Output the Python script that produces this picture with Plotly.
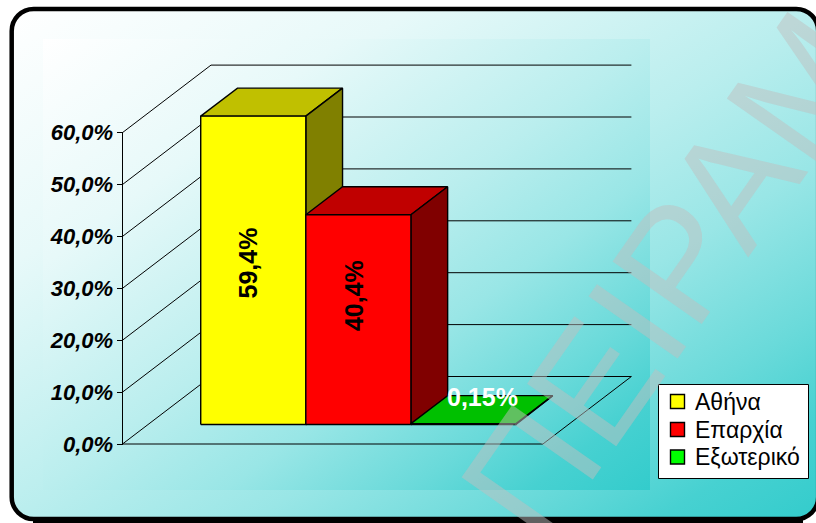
import base64
import plotly.graph_objects as go

# ---- data ----
categories = ["Αθήνα", "Επαρχία", "Εξωτερικό"]
values = [59.4, 40.4, 0.15]
value_labels = ["59,4%", "40,4%", "0,15%"]
tick_values = [0, 10, 20, 30, 40, 50, 60]
tick_labels = ["0,0%", "10,0%", "20,0%", "30,0%", "40,0%", "50,0%", "60,0%"]

# ---- style ----
front_colors = ["#FFFF00", "#FF0000", "#00FF00"]
top_colors = ["#C0C000", "#C00000", "#00C000"]
side_colors = ["#808000", "#800000", "#008000"]
label_colors = ["black", "black", "white"]
label_angles = [-90, -90, 0]
label_x = [1.19, 2.203, 3.43]
label_y = [34.9, 28.5, 9.0]
FONT = "Liberation Sans"

W, H = 816, 523
PX_CAT, PX_VAL = 105.1, 5.19      # axis scales: pixels per category / per percent
X0_PX, Y0_PX = 122.5, 444.0       # pixel position of the chart origin
DEPTH_X, DEPTH_Y = 88.5 / PX_CAT, 67.5 / PX_VAL   # oblique offset of the back wall
D0, D1 = 0.29, 0.705              # depth range of the bars
N = len(categories)


def proj(cat, val, depth=0.0):
    return cat + depth * DEPTH_X, val + depth * DEPTH_Y


def poly(points):
    xs, ys = zip(*[proj(*p) for p in points])
    return list(xs), list(ys)


fig = go.Figure()


def add_line(points):
    xs, ys = poly(points)
    fig.add_trace(go.Scatter(x=xs, y=ys, mode="lines", showlegend=False, hoverinfo="skip",
                             line=dict(color="black", width=1)))


def add_face(points, color, name=None):
    xs, ys = poly(points)
    xs.append(xs[0])
    ys.append(ys[0])
    fig.add_trace(go.Scatter(x=xs, y=ys, mode="lines", fill="toself", fillcolor=color,
                             showlegend=False, hoverinfo="skip", name=name,
                             line=dict(color="black", width=1.4)))


# walls and floor
top = max(tick_values)
add_line([(0, 0), (0, top)])
for t in tick_values:
    add_line([(0, t), (0, t, 1), (N + 1, t, 1)])
add_line([(0, 0), (N + 1, 0), (N + 1, 0, 1)])

# bars, painted from left to right
for i, v in enumerate(values):
    a, b = 0.5 + i, 1.5 + i
    add_face([(a, v, D0), (a, v, D1), (b, v, D1), (b, v, D0)], top_colors[i])
    add_face([(b, 0, D0), (b, 0, D1), (b, v, D1), (b, v, D0)], side_colors[i])
    add_face([(a, 0, D0), (b, 0, D0), (b, v, D0), (a, v, D0)], front_colors[i], categories[i])

annotations = [
    dict(x=x, y=y, xref="x", yref="y", text=t, showarrow=False, textangle=ang,
         font=dict(family=FONT, size=25, color=c, weight="bold"))
    for x, y, t, c, ang in zip(label_x, label_y, value_labels, label_colors, label_angles)
]

# legend box
LEG_X0, LEG_X1, LEG_Y0, LEG_Y1 = 658.5, 808.5, 384.5, 478.5
LEG_ROWS = [401.5, 429.5, 457.0]


def px(x):
    return x / W


def py(y):
    return 1 - y / H


shapes = [dict(type="rect", xref="paper", yref="paper", layer="above",
               x0=px(LEG_X0), x1=px(LEG_X1), y0=py(LEG_Y0), y1=py(LEG_Y1),
               fillcolor="white", line=dict(color="black", width=1))]
for name, c, row in zip(categories, front_colors, LEG_ROWS):
    shapes.append(dict(type="rect", xref="paper", yref="paper", layer="above",
                       x0=px(670.5), x1=px(684.5), y0=py(row - 7), y1=py(row + 7),
                       fillcolor=c, line=dict(color="black", width=1.4)))
    annotations.append(dict(x=px(692.5), y=py(row), xref="paper", yref="paper", text=name,
                            showarrow=False, xanchor="left", yanchor="middle",
                            font=dict(family=FONT, size=23, color="black")))

# watermark, above everything else
annotations.append(
    dict(x=px(699), y=py(232), xref="paper", yref="paper", text="ΠΕΙΡΑΜΑ",
         showarrow=False, textangle=-55, xanchor="center", yanchor="middle",
         font=dict(family=FONT, size=158, color="rgba(192,192,192,0.5)"))
)

# card and plot-area background
stops = [(0, 0), (.25, .12), (.5, .34), (.65, .5), (.8, .73), (.9, .9), (1, 1)]
stop_xml = "".join(
    f'<stop offset="{o}" stop-color="rgb({round(255 - f * 204)},{round(255 - f * 51)},{round(255 - f * 51)})"/>'
    for o, f in stops
)
svg = f'''<svg xmlns="http://www.w3.org/2000/svg" width="{W}" height="{H}" viewBox="0 0 {W} {H}">
<defs><linearGradient id="g" x1="0" y1="0" x2="1" y2="1">{stop_xml}</linearGradient></defs>
<rect x="33" y="519" width="770" height="4" fill="black"/>
<rect x="11.7" y="9" width="806.5" height="510" rx="22" ry="22" fill="url(#g)" stroke="black" stroke-width="4.5"/>
<rect x="43" y="39" width="607" height="451" fill="url(#g)"/>
</svg>'''
src = "data:image/svg+xml;base64," + base64.b64encode(svg.encode()).decode()

fig.update_layout(
    width=W, height=H, margin=dict(l=0, r=0, t=0, b=0, pad=0),
    paper_bgcolor="white", plot_bgcolor="rgba(0,0,0,0)",
    xaxis=dict(visible=False, domain=[0, 1],
               range=[-X0_PX / PX_CAT, (W - X0_PX) / PX_CAT]),
    yaxis=dict(anchor="free", position=X0_PX / W, domain=[0, 1],
               range=[-(H - Y0_PX) / PX_VAL, Y0_PX / PX_VAL],
               tickmode="array", tickvals=tick_values, ticktext=tick_labels,
               ticks="outside", ticklen=6, tickwidth=1, tickcolor="black",
               ticklabelstandoff=-1,
               showgrid=False, zeroline=False, showline=False,
               tickfont=dict(family=FONT, size=22, color="black", weight="bold", style="italic")),
    annotations=annotations,
    shapes=shapes,
    images=[dict(source=src, xref="paper", yref="paper", x=0, y=1, sizex=1, sizey=1,
                 sizing="stretch", xanchor="left", yanchor="top", layer="below")],
    showlegend=False,
)

fig.write_html("out.html", config={"displayModeBar": False},
               post_script="document.body.style.margin='0';document.body.style.overflow='hidden';")
